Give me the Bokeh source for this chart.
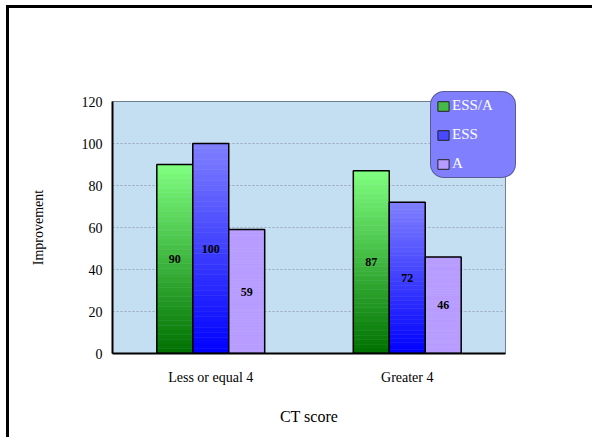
from bokeh.plotting import figure
from bokeh.models import ColumnDataSource, FactorRange, Legend, LegendItem
from bokeh.transform import dodge
from bokeh.core.properties import value
from bokeh.embed import file_html
from bokeh.resources import INLINE

categories = ["Less or equal 4", "Greater 4"]
series = ["ESS/A", "ESS", "A"]
ess_a = [90, 87]
ess = [100, 72]
a_vals = [59, 46]
y_ticks = [0, 20, 40, 60, 80, 100, 120]

series_values = [ess_a, ess, a_vals]
# (bottom color, top color) for gradient fills
grad = [((0, 112, 0), (128, 255, 128)),
        ((0, 0, 255), (128, 128, 255)),
        ((184, 156, 255), (184, 156, 255))]
swatch = ["#46B846", "#4848FF", "#B89CFF"]
offsets = [-0.183, 0.0, 0.183]
bw = 0.183

FONT = "Liberation Serif"

p = figure(x_range=FactorRange(factors=categories), y_range=(0, 120),
           frame_width=393, frame_height=252,
           min_border_left=103, min_border_right=0, min_border_top=93, min_border_bottom=84,
           output_backend="svg", toolbar_location=None)
p.styles = {"border-left": "3px solid black", "border-top": "3px solid black",
            "margin-left": "6px", "margin-top": "5px", "width": "fit-content"}
p.border_fill_color = "white"
p.background_fill_color = "#C4DEF2"
p.outline_line_color = "#6F7F90"
p.outline_line_width = 1

N = 40
legend_items = []
for k, (name, vals) in enumerate(zip(series, series_values)):
    c0, c1 = grad[k]
    xs, bots, tops, cols = [], [], [], []
    for ci, cat in enumerate(categories):
        v = vals[ci]
        for i in range(N):
            f = (i + 0.5) / N
            col = tuple(int(round(c0[j] + (c1[j] - c0[j]) * f)) for j in range(3))
            xs.append(cat)
            bots.append(v * i / N)
            tops.append(v * (i + 1) / N)
            cols.append("#%02x%02x%02x" % col)
    src = ColumnDataSource(dict(x=xs, bottom=bots, top=tops, color=cols))
    p.vbar(x=dodge("x", offsets[k], range=p.x_range), bottom="bottom", top="top", width=bw,
           source=src, fill_color="color", line_color="color", line_width=0.5)
    osrc = ColumnDataSource(dict(x=categories, top=vals, lab=[str(v) for v in vals],
                                 mid=[v / 2 for v in vals]))
    p.vbar(x=dodge("x", offsets[k], range=p.x_range), top="top", width=bw, source=osrc,
           fill_color=None, line_color="black", line_width=1.5)
    p.text(x=dodge("x", offsets[k], range=p.x_range), y="mid", text="lab", source=osrc,
           text_align="center", text_baseline="middle", text_font=value(FONT),
           text_font_size="12px", text_font_style="bold", text_color="black")
    # swatch-only renderer for the legend (degenerate bar hidden under the x axis)
    lr = p.vbar(x=[categories[0]], bottom=[0], top=[0], width=0.001,
                fill_color=swatch[k], line_color="#222222", line_width=1)
    legend_items.append(LegendItem(label=name, renderers=[lr]))

legend = Legend(items=legend_items, location=(-75, 175))
legend.background_fill_color = "#8080FF"
legend.background_fill_alpha = 1
legend.border_line_color = "#333333"
legend.border_line_width = 1.5
legend.border_radius = 14
legend.label_text_color = "white"
legend.label_text_font = FONT
legend.label_text_font_size = "15px"
legend.glyph_width = 14
legend.glyph_height = 12
legend.label_height = 16
legend.label_width = 58
legend.label_standoff = 2
legend.spacing = 12
legend.padding = 5
legend.margin = 0
p.add_layout(legend, "right")

p.xgrid.grid_line_color = None
p.ygrid.grid_line_color = "#9CA8B8"
p.ygrid.grid_line_dash = "2 2"
p.ygrid.grid_line_width = 1
p.yaxis.ticker = y_ticks

for ax in (p.xaxis[0], p.yaxis[0]):
    ax.axis_line_color = "black"
    ax.axis_line_width = 2
    ax.major_tick_line_color = None
    ax.major_tick_out = 0
    ax.major_tick_in = 0
    ax.minor_tick_line_color = None
    ax.major_label_text_font = FONT
    ax.major_label_text_font_size = "14px"
    ax.major_label_text_color = "black"
    ax.axis_label_text_font = FONT
    ax.axis_label_text_font_style = "normal"
    ax.axis_label_text_color = "black"

p.yaxis.axis_label = "Improvement"
p.yaxis.axis_label_text_font_size = "14px"
p.yaxis.major_label_standoff = 10
p.yaxis.axis_label_standoff = 33
p.xaxis.axis_label = "CT score"
p.xaxis.axis_label_text_font_size = "16px"
p.xaxis.major_label_standoff = 16
p.xaxis.axis_label_standoff = 20

open("out.html", "w").write(file_html(p, INLINE))
